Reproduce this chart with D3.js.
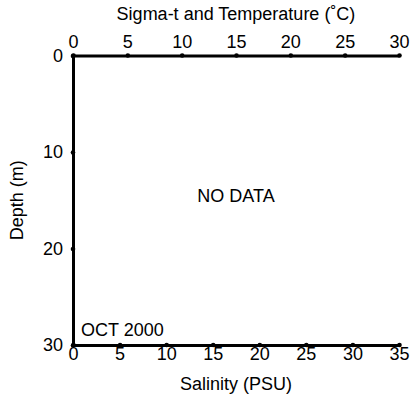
<!DOCTYPE html>
<html>
<head>
<meta charset="utf-8">
<script src="https://cdn.jsdelivr.net/npm/d3@7"></script>
<style>
  html, body { margin: 0; padding: 0; background: #fff; }
  svg { display: block; }
  text { font-family: "Liberation Sans", Arial, Helvetica, sans-serif; fill: #000; }
</style>
</head>
<body>
<svg id="chart" width="412" height="400"></svg>
<script>
// ---- Data ----
const tempTicks = [0, 5, 10, 15, 20, 25, 30];          // Sigma-t and Temperature (°C), top axis
const salinityTicks = [0, 5, 10, 15, 20, 25, 30, 35];   // Salinity (PSU), bottom axis
const depthTicks = [0, 10, 20, 30];                     // Depth (m), left axis
const tempDomain = [0, 30];
const salinityDomain = [0, 35];
const depthDomain = [0, 30];
const titleTop = "Sigma-t and Temperature (˚C)";
const titleBottom = "Salinity (PSU)";
const titleLeft = "Depth (m)";
const dateLabel = "OCT 2000";
const noDataLabel = "NO DATA";

// ---- Layout ----
const mLeft = 73, mRight = 399, mTop = 55.5, mBottom = 345;
const svg = d3.select("#chart");

const xT = d3.scaleLinear().domain(tempDomain).range([mLeft, mRight]);
const xS = d3.scaleLinear().domain(salinityDomain).range([mLeft, mRight]);
const y = d3.scaleLinear().domain(depthDomain).range([mTop, mBottom]);

function styleAxis(g) {
  g.select(".domain").attr("stroke", "#000").attr("stroke-width", 3);
  g.selectAll(".tick line").remove();
  g.selectAll(".tick").append("circle").attr("r", 2.3).attr("fill", "#000");
  g.selectAll(".tick text").attr("font-size", 18).attr("fill", "#000")
    .attr("font-family", '"Liberation Sans", Arial, Helvetica, sans-serif');
}

svg.append("g").attr("transform", `translate(0,${mTop})`)
  .call(d3.axisTop(xT).tickValues(tempTicks).tickSize(0).tickPadding(7.5).tickFormat(d3.format("d")))
  .call(styleAxis);

svg.append("g").attr("transform", `translate(0,${mBottom})`)
  .call(d3.axisBottom(xS).tickValues(salinityTicks).tickSize(0).tickPadding(2.5).tickFormat(d3.format("d")))
  .call(styleAxis);

svg.append("g").attr("transform", `translate(${mLeft},0)`)
  .call(d3.axisLeft(y).tickValues(depthTicks).tickSize(0).tickPadding(10).tickFormat(d3.format("d")))
  .call(styleAxis);

// Titles
svg.append("text").attr("x", (mLeft + mRight) / 2).attr("y", 20)
  .attr("text-anchor", "middle").attr("font-size", 18).text(titleTop);
svg.append("text").attr("x", (mLeft + mRight) / 2).attr("y", 390)
  .attr("text-anchor", "middle").attr("font-size", 18).text(titleBottom);
svg.append("text").attr("transform", `translate(23,${(mTop + mBottom) / 2}) rotate(-90)`)
  .attr("text-anchor", "middle").attr("font-size", 18).text(titleLeft);

// Annotations
svg.append("text").attr("x", mLeft + 8).attr("y", mBottom - 9.5)
  .attr("font-size", 18).text(dateLabel);
svg.append("text").attr("x", xS(17.5)).attr("y", y(15) + 1.75)
  .attr("text-anchor", "middle").attr("font-size", 18).text(noDataLabel);
</script>
</body>
</html>
